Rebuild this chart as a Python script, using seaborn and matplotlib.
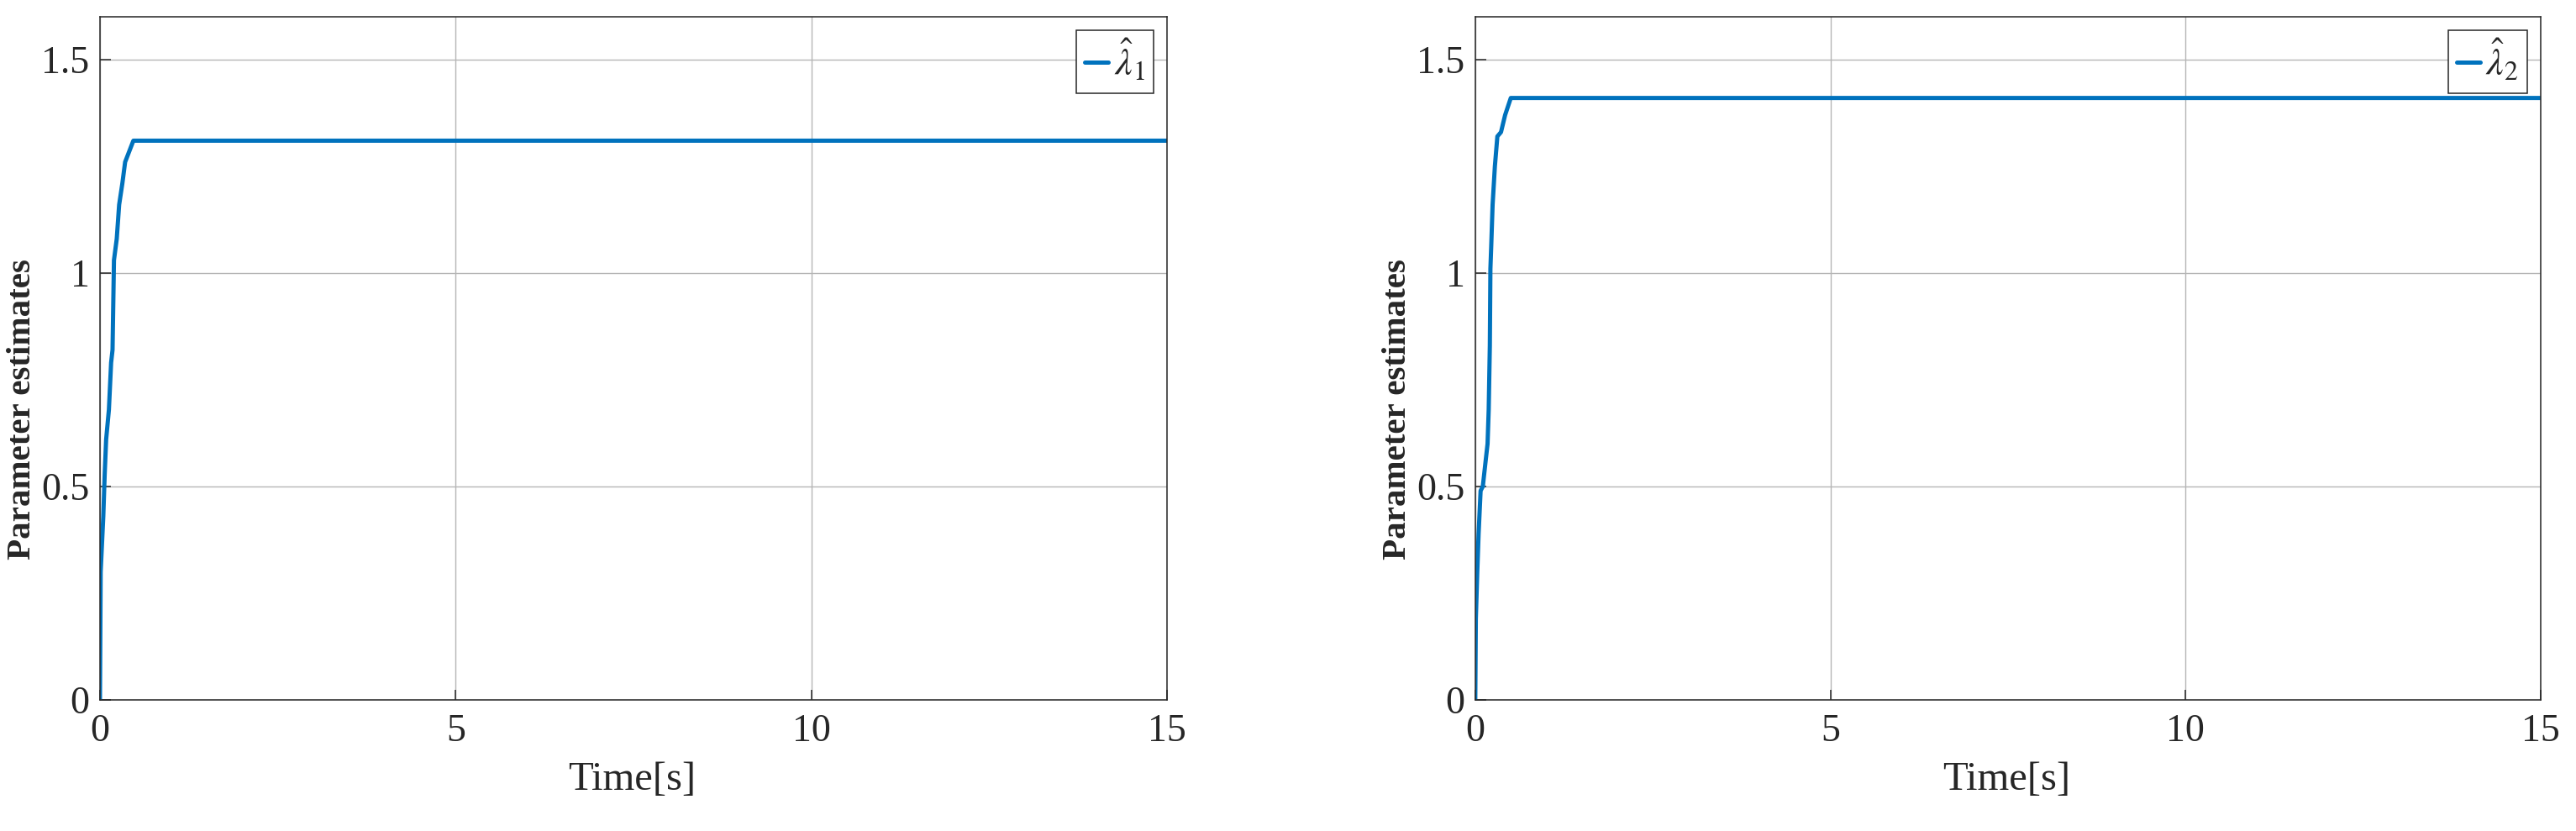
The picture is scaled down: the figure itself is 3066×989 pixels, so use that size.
import numpy as np
import pandas as pd
import matplotlib
matplotlib.use("Agg")
import matplotlib.pyplot as plt
import seaborn as sns

# ---- data ----
time1 = [0, 0.01, 0.047, 0.067, 0.087, 0.126, 0.157, 0.177, 0.197, 0.236, 0.27, 0.315, 0.354, 0.47, 15]
lambda1 = [0, 0.30, 0.43, 0.53, 0.61, 0.68, 0.79, 0.82, 1.03, 1.08, 1.16, 1.21, 1.26, 1.31, 1.31]
time2 = [0, 0.008, 0.028, 0.047, 0.075, 0.106, 0.146, 0.173, 0.189, 0.205, 0.213, 0.224, 0.244,
         0.276, 0.311, 0.362, 0.42, 0.5, 15]
lambda2 = [0, 0.19, 0.30, 0.39, 0.49, 0.50, 0.56, 0.60, 0.68, 0.83, 1.01, 1.06, 1.16, 1.25,
           1.32, 1.33, 1.37, 1.41, 1.41]
x_ticks = [0, 5, 10, 15]
y_ticks = [0, 0.5, 1, 1.5]
y_tick_labels = ["0", "0.5", "1", "1.5"]
legend_labels = [r"$\hat{\lambda}_1$", r"$\hat{\lambda}_2$"]
x_label = "Time[s]"
y_label = "Parameter estimates"

sns.set_theme(style="white")
plt.rcParams["font.family"] = ["Liberation Serif", "DejaVu Serif"]
plt.rcParams["mathtext.fontset"] = "stix"

line_color = "#0072BD"
text_color = "#262626"

fig = plt.figure(figsize=(30.66, 9.89), dpi=100)
axes = [fig.add_axes([0.0388, 0.1577, 0.4142, 0.822]),
        fig.add_axes([0.5727, 0.1577, 0.4136, 0.822])]

series = [(time1, lambda1), (time2, lambda2)]
for ax, (t, v), lab in zip(axes, series, legend_labels):
    df = pd.DataFrame({"t": t, "v": v})
    sns.lineplot(data=df, x="t", y="v", ax=ax, color=line_color, linewidth=3.6,
                 label=lab, estimator=None, sort=False)
    ax.set_xlim(0, 15)
    ax.set_ylim(0, 1.6)
    ax.set_xticks(x_ticks)
    ax.set_xticklabels([str(x) for x in x_ticks])
    ax.set_yticks(y_ticks)
    ax.set_yticklabels(y_tick_labels)
    ax.grid(True, color="#b5b5b5", linewidth=1.0)
    ax.set_axisbelow(True)
    for sp in ax.spines.values():
        sp.set_visible(True)
        sp.set_color(text_color)
        sp.set_linewidth(1.1)
    ax.tick_params(axis="both", direction="in", length=9, width=1.1, colors=text_color,
                   labelsize=33, top=False, right=False, left=True, bottom=True)
    ax.tick_params(axis="x", pad=12)
    ax.tick_params(axis="y", pad=9)
    ax.set_xlabel(x_label, fontsize=35, color=text_color)
    ax.set_ylabel(y_label, fontsize=29.5, color=text_color, fontweight="bold")
    ax.xaxis.set_label_coords(0.499, -0.090)
    ax.yaxis.set_label_coords(-0.058, 0.425)
    leg = ax.legend(loc="upper right", fontsize=33, frameon=True, fancybox=False,
                    framealpha=1, edgecolor=text_color, handlelength=0.6,
                    handletextpad=0.15, borderpad=0.22, borderaxespad=0.35)
    leg.get_frame().set_linewidth(1.1)

fig.savefig("out.png", dpi=100)
